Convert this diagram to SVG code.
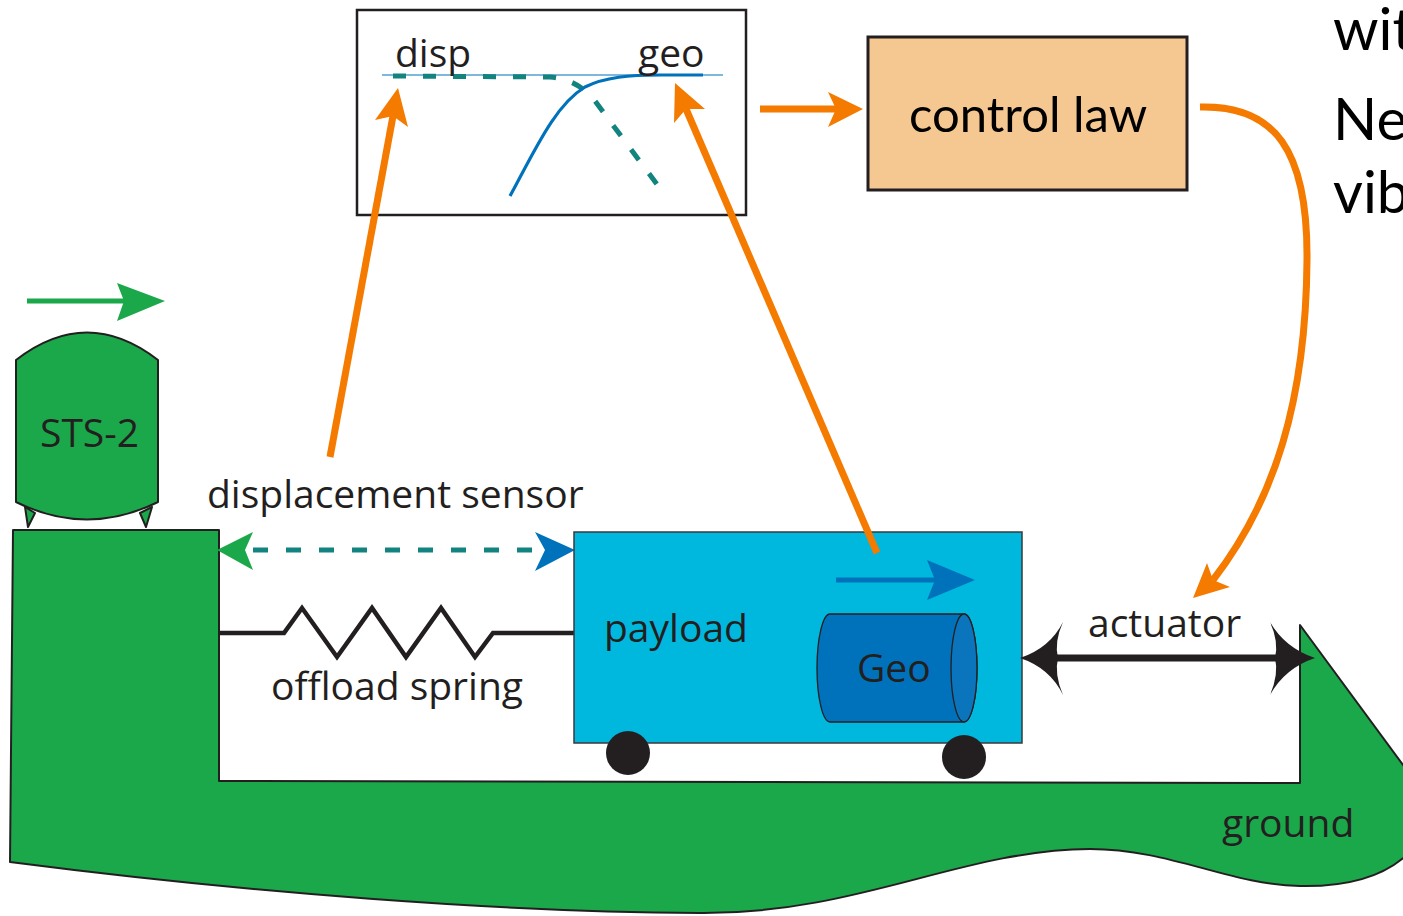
<svg xmlns="http://www.w3.org/2000/svg" width="1403" height="916" viewBox="0 0 1403 916">
  <style>
    .lbl { font-family: "Open Sans", "Liberation Sans", sans-serif; font-size: 39px; fill: #231f20; }
    .gill { font-family: Lato, "Open Sans", sans-serif; fill: #000; }
    .outline { stroke: #231f20; stroke-width: 2; stroke-linejoin: round; }
    .orange { fill: none; stroke: #f47a00; stroke-width: 7; }
    .orange-head { fill: #f47a00; }
    .teal-dash { fill: none; stroke: #13837f; stroke-width: 5; }
  </style>

  <!-- ground with its cut-out floor -->
  <g id="ground">
    <path class="outline" fill="#1ba84a"
          d="M13,530 L219,530 L219,781 L1300,783 L1300,625 L1420,788 L1420,840
             C1395,875 1350,887 1300,886 C1230,885 1170,849 1090,849
             C960,850 860,914 700,913 C500,912 250,893 10,862 Z"/>
    <text class="lbl" x="1222" y="837">ground</text>
  </g>

  <!-- STS-2 seismometer -->
  <g id="sts2">
    <path class="outline" fill="#1ba84a" d="M25,507 L28,527 L35,513 Z"/>
    <path class="outline" fill="#1ba84a" d="M140,513 L146,527 L152,507 Z"/>
    <path class="outline" fill="#1ba84a" d="M16,360 Q87,305 158,360 L158,502 Q87,537 16,502 Z"/>
    <text class="lbl" x="40" y="447">STS-2</text>
    <!-- ground motion arrow -->
    <line x1="27" y1="301" x2="125" y2="301" stroke="#1ba84a" stroke-width="5"/>
    <polygon fill="#1ba84a" points="117,283 165,301 117,321 124,301"/>
  </g>

  <!-- offload spring -->
  <g id="spring">
    <polyline fill="none" stroke="#231f20" stroke-width="4.5" stroke-linejoin="miter"
              points="220,633 284,633 302,608 337,657 372,608 406,657 441,608 475,657 493,633 575,633"/>
    <text class="lbl" x="271" y="700">offload spring</text>
  </g>

  <!-- displacement sensor -->
  <g id="displacement-sensor">
    <line class="teal-dash" x1="245" y1="550" x2="545" y2="550" stroke-dasharray="15 18" stroke-dashoffset="-8"/>
    <polygon fill="#1ba84a" points="217,550 253,532 245,550 253,570"/>
    <polygon fill="#0072bc" points="575,550 535,532 545,550 535,571"/>
    <text class="lbl" x="207" y="508">displacement sensor</text>
  </g>

  <!-- payload on wheels -->
  <g id="payload">
    <rect x="574" y="532" width="448" height="211" fill="#00b7de" stroke="#3a3a3a" stroke-width="1.5"/>
    <circle cx="628" cy="753" r="22" fill="#231f20"/>
    <circle cx="964" cy="757" r="22" fill="#231f20"/>
    <text class="lbl" x="604" y="642">payload</text>
    <line x1="836" y1="580" x2="935" y2="580" stroke="#0072bc" stroke-width="5"/>
    <polygon fill="#0072bc" points="927,560 975,580 927,600 935,580"/>
  </g>

  <!-- geophone -->
  <g id="geo">
    <path fill="#0072bc" stroke="#231f20" stroke-width="1.3"
          d="M830,614 L964,614 A13,54 0 0 1 964,722 L830,722 A13,54 0 0 1 830,614 Z"/>
    <ellipse cx="964" cy="668" rx="13" ry="54" fill="#0a74bd" stroke="#231f20" stroke-width="1.3"/>
    <text class="lbl" x="857" y="682">Geo</text>
  </g>

  <!-- actuator double arrow -->
  <g id="actuator">
    <line x1="1050" y1="658" x2="1285" y2="658" stroke="#231f20" stroke-width="7"/>
    <path fill="#231f20" d="M1020,658 Q1050,648 1063,622 Q1054,642 1058,658 Q1054,674 1063,695 Q1050,668 1020,658 Z"/>
    <path fill="#231f20" d="M1315,658 Q1285,648 1270,622 Q1279,642 1275,658 Q1279,674 1270,695 Q1285,668 1315,658 Z"/>
    <text class="lbl" x="1088" y="637">actuator</text>
  </g>

  <!-- sensor blend plot -->
  <g id="plot">
    <rect x="357" y="10" width="389" height="205" fill="#fff" stroke="#231f20" stroke-width="2.5"/>
    <line x1="382" y1="75" x2="723" y2="75" stroke="#0072bc" stroke-width="1.2"/>
    <path class="teal-dash" stroke-width="4" stroke-dasharray="13 17"
          d="M393,76 L550,77 Q575,79 592,97 L659,187"/>
    <path fill="none" stroke="#0072bc" stroke-width="3.2"
          d="M510,196 C535,150 555,105 585,87 C605,77 630,75 660,75 L703,75"/>
    <text class="lbl" x="395" y="67" font-size="41">disp</text>
    <text class="lbl" x="638" y="67" font-size="41">geo</text>
  </g>

  <!-- control law block -->
  <g id="control-law">
    <rect x="868" y="37" width="319" height="153" fill="#f6c891" stroke="#231f20" stroke-width="3"/>
    <text class="gill" x="909" y="132" font-size="49">control law</text>
  </g>

  <!-- signal flow -->
  <g id="connectors">
    <line class="orange" x1="330" y1="457" x2="393" y2="116"/>
    <polygon class="orange-head" points="398,88 408,127 393,116 375,120"/>

    <line class="orange" x1="877" y1="553" x2="686" y2="109"/>
    <polygon class="orange-head" points="675,83 705,109 686,109 674,123"/>

    <line class="orange" x1="760" y1="109" x2="836" y2="109"/>
    <polygon class="orange-head" points="863,109 828,92 836,109 828,127"/>

    <path class="orange" d="M1200,107 C1275,105 1308,150 1307,260 C1306,400 1275,500 1213,580"/>
    <polygon class="orange-head" points="1193,598 1207,563 1213,580 1230,587"/>
  </g>

  <!-- side text -->
  <g id="side-text" class="gill" font-size="58">
    <text x="1333" y="50">wit</text>
    <text x="1333" y="140">Ne</text>
    <text x="1333" y="213">vib</text>
  </g>
</svg>
